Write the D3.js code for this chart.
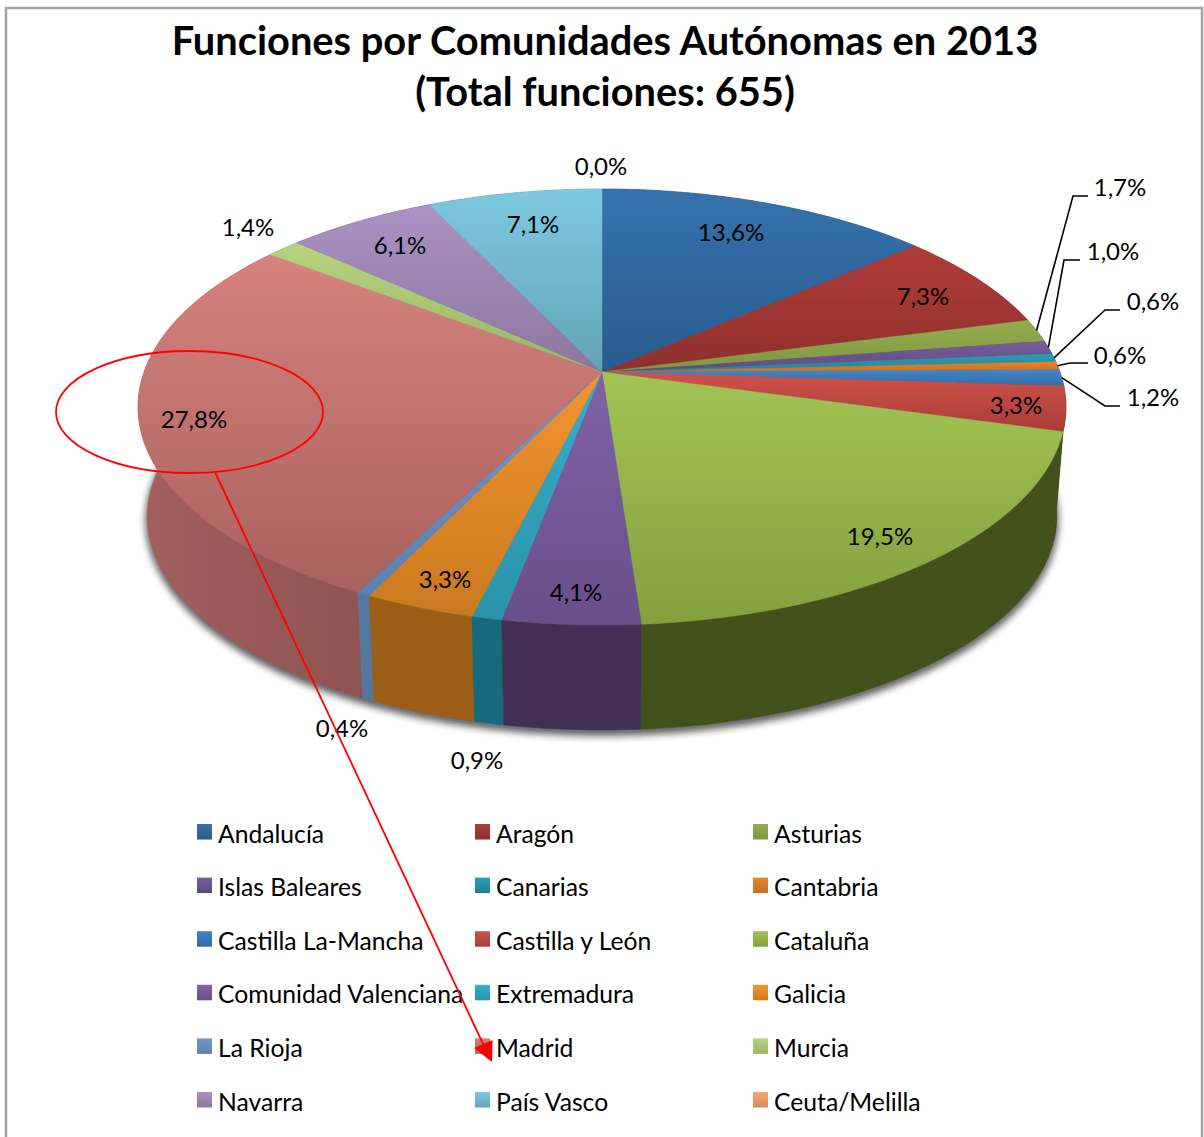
<!DOCTYPE html>
<html>
<head>
<meta charset="utf-8">
<script src="https://cdn.jsdelivr.net/npm/d3@7"></script>
<style>
  html, body { margin: 0; padding: 0; background: #fff; }
  svg { display: block; }
  text { font-family: Lato, "Open Sans", sans-serif; fill: #000; }
</style>
</head>
<body>
<div id="chart"></div>
<script>
// data
var regions = ["Andalucía", "Aragón", "Asturias", "Islas Baleares", "Canarias", "Cantabria",
    "Castilla La-Mancha", "Castilla y León", "Cataluña", "Comunidad Valenciana", "Extremadura", "Galicia",
    "La Rioja", "Madrid", "Murcia", "Navarra", "País Vasco", "Ceuta/Melilla"];
var shares = [13.6, 7.3, 1.7, 1.0, 0.6, 0.6, 1.2, 3.3, 19.5, 4.1, 0.9, 3.3, 0.4, 27.8, 1.4, 6.1, 7.1, 0.0];
var shareLabels = ["13,6%", "7,3%", "1,7%", "1,0%", "0,6%", "0,6%", "1,2%", "3,3%", "19,5%", "4,1%", "0,9%", "3,3%",
    "0,4%", "27,8%", "1,4%", "6,1%", "7,1%", "0,0%"];

// colours: top of slice, bottom of slice, side wall (left and right end)
var topLight = ["#3673ae", "#b03d39", "#93ad4e", "#785e9c", "#2c9fba", "#e5872e", "#4285c9", "#d0524a", "#a2c454",
    "#8162a9", "#35b0cd", "#f2952f", "#7099cd", "#d6827e", "#b7d37f", "#ad91c5", "#7ec8e1", "#f8a875"];
var topDark = ["#295b8c", "#8e2f2c", "#7f9640", "#5e497c", "#217e93", "#c46f20", "#336ca5", "#a83d38", "#83a03e",
    "#694e8a", "#2a92aa", "#cb7a20", "#5b81af", "#a8615e", "#9ab567", "#8c769e", "#63a4b7", "#d88c59"];
var wallLeft = ["#1f4468", "#6b2421", "#55662a", "#44345c", "#17697d", "#8d5213", "#265280", "#4a3a1c", "#43511c",
    "#422f54", "#17697d", "#9c5e16", "#54789f", "#a3605d", "#6f8549", "#64536f", "#467585", "#a0653c"];
var wallRight = ["#1f4468", "#6b2421", "#55662a", "#44345c", "#17697d", "#8d5213", "#265280", "#4a3a1c", "#43511c",
    "#422f54", "#17697d", "#9c5e16", "#54789f", "#8f5350", "#6f8549", "#64536f", "#467585", "#a0653c"];

var title = ["Funciones por Comunidades Autónomas en 2013", "(Total funciones: 655)"];

var width = 1204, height = 1137;

// the pie is a circle seen in perspective, so the apex sits above the middle of the ellipse
var cx = 602, cy = 372, persp = 0.1606, depth = 110, baseScale = 0.98;
var xScale = d3.scaleLinear().domain([-1, 1]).range([cx - 458, cx + 458]);
var yScale = d3.scaleLinear().domain([-1, 1]).range([cy + 212.4, cy - 212.4]);

function topPoint(a) {
    var w = 1 + persp * Math.cos(a);
    return [xScale(Math.sin(a) / w), yScale(Math.cos(a) / w)];
}
function basePoint(a) {
    var p = topPoint(a);
    return [cx + (p[0] - cx) * baseScale, cy + (p[1] - cy) * baseScale + depth];
}
function samples(a0, a1) {
    var list = d3.range(a0, a1, Math.PI / 360);
    list.push(a1);
    return list;
}

var svg = d3.select("#chart").append("svg").attr("width", width).attr("height", height);
var defs = svg.append("defs");
var line = d3.line();

var pie = d3.pie().sort(null).value(function (d) { return d.value; });
var slices = pie(regions.map(function (name, i) { return { name: name, value: shares[i], i: i }; }));

// gradients for each slice top, legend box and wall
slices.forEach(function (s) {
    var g = defs.append("linearGradient").attr("id", "grad" + s.data.i)
        .attr("x1", 0).attr("y1", 0).attr("x2", 0).attr("y2", 1);
    g.append("stop").attr("offset", "0%").attr("stop-color", topLight[s.data.i]);
    g.append("stop").attr("offset", "100%").attr("stop-color", topDark[s.data.i]);
    var w = defs.append("linearGradient").attr("id", "wall" + s.data.i)
        .attr("x1", 0).attr("y1", 0).attr("x2", 1).attr("y2", 0);
    w.append("stop").attr("offset", "0%").attr("stop-color", wallLeft[s.data.i]);
    w.append("stop").attr("offset", "100%").attr("stop-color", wallRight[s.data.i]);
});

var blur = defs.append("filter").attr("id", "blur")
    .attr("x", "-5%").attr("y", "-5%").attr("width", "110%").attr("height", "110%");
blur.append("feGaussianBlur").attr("stdDeviation", 3.5);

// frame
svg.append("path")
    .attr("d", line([[6, height], [6, 8], [1202, 8], [1202, height]]))
    .attr("fill", "none").attr("stroke", "#a3a3a3").attr("stroke-width", 2.5);

// title
svg.selectAll(".title").data(title).enter().append("text")
    .attr("class", "title")
    .attr("x", 605)
    .attr("y", function (d, i) { return 55 + i * 51; })
    .attr("text-anchor", "middle")
    .style("font-size", "39.8px")
    .style("font-weight", "bold")
    .text(function (d) { return d; });

// soft shadow under the base
svg.append("path")
    .attr("d", line(samples(0, 2 * Math.PI).map(basePoint)) + "Z")
    .attr("transform", "translate(0,4)")
    .attr("fill", "#222")
    .attr("stroke", "#222")
    .attr("stroke-width", 4)
    .attr("opacity", 0.7)
    .attr("filter", "url(#blur)");

// side wall, back slices first
var drawn = slices.filter(function (s) { return s.value > 0; });
var wallOrder = drawn.slice().sort(function (a, b) {
    return Math.cos((b.startAngle + b.endAngle) / 2) - Math.cos((a.startAngle + a.endAngle) / 2);
});
svg.append("g").selectAll("path").data(wallOrder).enter().append("path")
    .attr("d", function (s) {
        var a = samples(s.startAngle, s.endAngle);
        return line(a.map(topPoint).concat(a.reverse().map(basePoint))) + "Z";
    })
    .attr("fill", function (s) { return "url(#wall" + s.data.i + ")"; })
    .attr("stroke", function (s) { return "url(#wall" + s.data.i + ")"; })
    .attr("stroke-width", 0.4);

// top face
svg.append("g").selectAll("path").data(drawn).enter().append("path")
    .attr("d", function (s) {
        return line([[cx, cy]].concat(samples(s.startAngle, s.endAngle).map(topPoint))) + "Z";
    })
    .attr("fill", function (s) { return "url(#grad" + s.data.i + ")"; })
    .attr("stroke", function (s) { return "url(#grad" + s.data.i + ")"; })
    .attr("stroke-width", 0.4);

// where the percentage labels sit
var labelPos = [[731, 233], [923, 297], [1120, 188], [1113, 252], [1153, 302], [1120, 356], [1153, 398], [1016, 406],
    [880, 537], [576, 593], [477, 761], [445, 580], [342, 729], [194, 420], [248, 228], [400, 246], [533, 225], [601, 167]];

// leader lines: slice index, elbow, end
var leaders = [
    { i: 2, elbow: [1073, 196], end: [1088, 196] },
    { i: 3, elbow: [1064, 260], end: [1080, 260] },
    { i: 4, elbow: [1105, 310], end: [1120, 310] },
    { i: 5, elbow: [1070, 363], end: [1088, 363] },
    { i: 6, elbow: [1105, 406], end: [1120, 406] }
];
svg.append("g").selectAll("path").data(leaders).enter().append("path")
    .attr("d", function (d) {
        var s = slices[d.i];
        return line([topPoint((s.startAngle + s.endAngle) / 2), d.elbow, d.end]);
    })
    .attr("fill", "none").attr("stroke", "#000").attr("stroke-width", 1.6);

svg.append("g").selectAll("text").data(slices).enter().append("text")
    .attr("x", function (s) { return labelPos[s.data.i][0]; })
    .attr("y", function (s) { return labelPos[s.data.i][1]; })
    .attr("dy", "0.35em")
    .attr("text-anchor", "middle")
    .style("font-size", "24px")
    .text(function (s) { return shareLabels[s.data.i]; });

// legend, three columns
var legendX = d3.scaleBand().domain([0, 1, 2]).range([197, 197 + 278 * 3]);
var legendY = d3.scalePoint().domain(d3.range(6)).range([834, 1102]);
var legend = svg.append("g").selectAll("g").data(regions).enter().append("g")
    .attr("transform", function (d, i) {
        return "translate(" + legendX(i % 3) + "," + legendY(Math.floor(i / 3)) + ")";
    });
legend.append("rect")
    .attr("x", 0).attr("y", -10).attr("width", 15).attr("height", 15.5)
    .attr("fill", function (d, i) { return "url(#grad" + i + ")"; });
legend.append("text")
    .attr("x", 21).attr("y", 0).attr("dy", "0.35em")
    .style("font-size", "24.7px")
    .text(function (d) { return d; });

// red ellipse and arrow drawn over the chart
svg.append("ellipse")
    .attr("cx", 189.5).attr("cy", 412).attr("rx", 133.5).attr("ry", 61)
    .attr("fill", "none").attr("stroke", "#ff0000").attr("stroke-width", 1.8);
svg.append("line")
    .attr("x1", 215).attr("y1", 472).attr("x2", 484).attr("y2", 1046)
    .attr("stroke", "#ff0000").attr("stroke-width", 1.8);
svg.append("path")
    .attr("d", line([[474, 1048], [492.5, 1040], [492, 1062]]) + "Z")
    .attr("fill", "#ff0000");
</script>
</body>
</html>
